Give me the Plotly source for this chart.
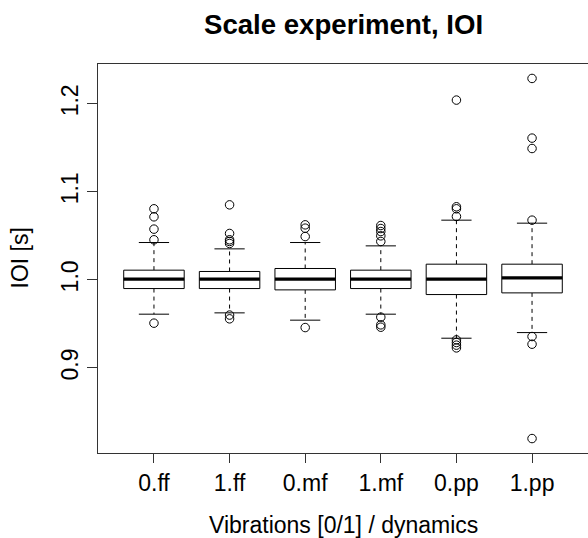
import plotly.graph_objects as go

categories = ["0.ff", "1.ff", "0.mf", "1.mf", "0.pp", "1.pp"]
q1 = [0.9901, 0.9901, 0.9886, 0.9901, 0.9833, 0.9852]
medians = [1.0008, 1.0008, 1.0008, 1.0008, 1.0008, 1.0023]
q3 = [1.0110, 1.0095, 1.0129, 1.0110, 1.0178, 1.0178]
lower_whisker = [0.9610, 0.9625, 0.9542, 0.9610, 0.9337, 0.9401]
upper_whisker = [1.0424, 1.0352, 1.0424, 1.0386, 1.0678, 1.0644]
outliers = [
    [1.0807, 1.0716, 1.0576, 1.0455, 0.9508],
    [1.0852, 1.0527, 1.0455, 1.0436, 1.0413, 0.9600, 0.9557],
    [1.0625, 1.0587, 1.0492, 0.9458],
    [1.0617, 1.0583, 1.0549, 1.0500, 1.0436, 0.9576, 0.9489, 0.9462],
    [1.2042, 1.0830, 1.0807, 1.0720, 0.9318, 0.9288, 0.9258, 0.9227],
    [1.2288, 1.1610, 1.1492, 1.0678, 0.9356, 0.9269, 0.8197],
]
y_ticks = [0.9, 1.0, 1.1, 1.2]

FONT = "Liberation Sans, Arial, sans-serif"
HALF = 0.4     # half box width (boxwex 0.8)
CAP = 0.2      # half staple width

pos = list(range(1, len(categories) + 1))

box_x, box_y = [], []
med_x, med_y = [], []
wh_x, wh_y = [], []
cap_x, cap_y = [], []
out_x, out_y = [], []
for i, p in enumerate(pos):
    box_x += [p - HALF, p + HALF, p + HALF, p - HALF, p - HALF, None]
    box_y += [q1[i], q1[i], q3[i], q3[i], q1[i], None]
    med_x += [p - HALF, p + HALF, None]
    med_y += [medians[i], medians[i], None]
    wh_x += [p, p, None, p, p, None]
    wh_y += [q3[i], upper_whisker[i], None, q1[i], lower_whisker[i], None]
    cap_x += [p - CAP, p + CAP, None, p - CAP, p + CAP, None]
    cap_y += [upper_whisker[i], upper_whisker[i], None, lower_whisker[i], lower_whisker[i], None]
    for v in outliers[i]:
        out_x.append(p)
        out_y.append(v)

fig = go.Figure()
fig.add_trace(go.Scatter(x=wh_x, y=wh_y, mode="lines",
                         line=dict(color="black", width=1, dash="4px,4px"),
                         hoverinfo="skip", showlegend=False))
fig.add_trace(go.Scatter(x=cap_x, y=cap_y, mode="lines",
                         line=dict(color="black", width=1),
                         hoverinfo="skip", showlegend=False))
fig.add_trace(go.Scatter(x=box_x, y=box_y, mode="lines", fill="toself",
                         fillcolor="white", line=dict(color="black", width=1),
                         hoverinfo="skip", showlegend=False))
fig.add_trace(go.Scatter(x=med_x, y=med_y, mode="lines",
                         line=dict(color="black", width=3.3),
                         hoverinfo="skip", showlegend=False))
fig.add_trace(go.Scatter(x=out_x, y=out_y, mode="markers",
                         marker=dict(symbol="circle-open", size=8.5,
                                     color="black", line=dict(width=1)),
                         showlegend=False))

fig.update_layout(
    width=588, height=538,
    margin=dict(l=98, r=0, t=64, b=85),
    paper_bgcolor="white", plot_bgcolor="white",
    font=dict(family=FONT, size=23, color="black"),
    showlegend=False,
    xaxis=dict(range=[0.26, 6.74], tickvals=pos, ticktext=categories,
               showgrid=False, zeroline=False, showline=True, mirror=True,
               linecolor="#333", linewidth=1,
               ticks="outside", ticklen=9, tickcolor="#333",
               tickfont=dict(size=23)),
    yaxis=dict(range=[0.8033, 1.2452], tickvals=y_ticks,
               ticktext=[f"{v:.1f}" for v in y_ticks],
               tickangle=-90,
               showgrid=False, zeroline=False, showline=True, mirror=True,
               linecolor="#333", linewidth=1,
               ticks="outside", ticklen=10, tickcolor="#333",
               tickfont=dict(size=23)),
    annotations=[
        dict(text="<b>Scale experiment, IOI</b>", xref="paper", yref="paper",
             x=0.5, y=1, yshift=40, showarrow=False,
             xanchor="center", yanchor="middle", font=dict(size=27.6)),
        dict(text="Vibrations [0/1] / dynamics", xref="paper", yref="paper",
             x=0.5, y=0, yshift=-72, showarrow=False,
             xanchor="center", yanchor="middle", font=dict(size=23)),
        dict(text="IOI [s]", xref="paper", yref="paper",
             x=0, y=0.5, xshift=-79, showarrow=False, textangle=-90,
             xanchor="center", yanchor="middle", font=dict(size=23)),
    ],
)

fig.write_html(
    "out.html",
    config={"displayModeBar": False, "staticPlot": True},
    post_script="document.body.style.margin='0';document.body.style.overflow='hidden';",
)
